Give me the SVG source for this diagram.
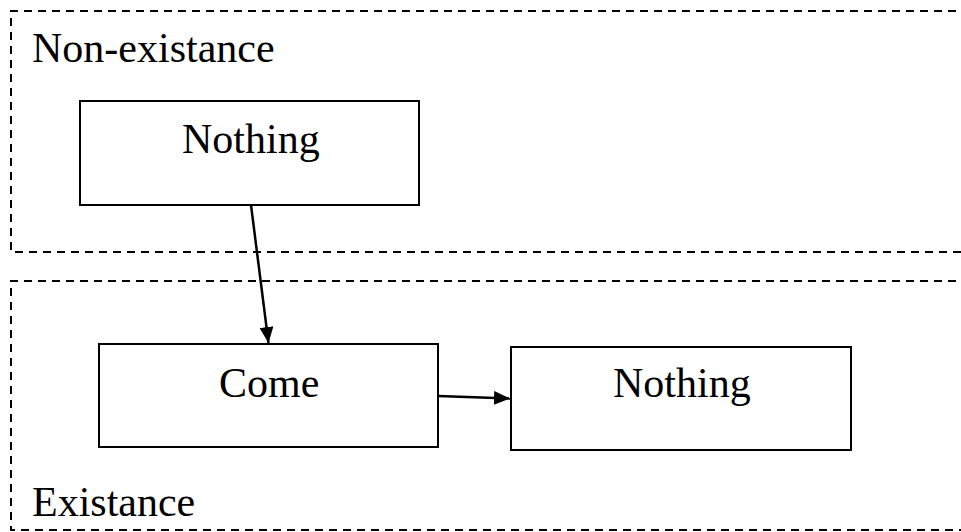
<svg xmlns="http://www.w3.org/2000/svg" width="961" height="532" viewBox="0 0 961 532">
<style>
.region{fill:none;stroke:#000;stroke-width:2;stroke-dasharray:8 6;}
.box{fill:#fff;stroke:#000;stroke-width:2;}
.edge{fill:none;stroke:#000;stroke-width:2.5;}
</style>
<defs>
<marker id="arrow" viewBox="0 0 16 14" refX="16" refY="7" markerWidth="16" markerHeight="14" markerUnits="userSpaceOnUse" orient="auto">
<path d="M0,0 L16,7 L0,14 z" fill="#000"/>
</marker>
</defs>
<rect width="961" height="532" fill="#fff"/>
<g font-family="'Liberation Serif', 'Times New Roman', 'DejaVu Serif', serif" font-size="42" fill="#000">
<g id="region-nonexistance">
<path class="region" d="M970,11 H11 V252 H970"/>
<text x="32" y="62">Non-existance</text>
</g>
<g id="region-existance">
<path class="region" d="M970,281 H11 V530 H970"/>
<text x="32" y="516">Existance</text>
</g>
<g id="node-nothing1">
<rect class="box" x="80" y="101" width="339" height="104"/>
<text x="182" y="153">Nothing</text>
</g>
<g id="node-come">
<rect class="box" x="99" y="344" width="339" height="103"/>
<text x="219" y="397">Come</text>
</g>
<g id="node-nothing2">
<rect class="box" x="511" y="347" width="340" height="103"/>
<text x="613" y="397">Nothing</text>
</g>
</g>
<g id="connectors">
<line class="edge" x1="251" y1="205" x2="268.5" y2="343" marker-end="url(#arrow)"/>
<line class="edge" x1="438" y1="396" x2="510" y2="398.5" marker-end="url(#arrow)"/>
</g>
</svg>
